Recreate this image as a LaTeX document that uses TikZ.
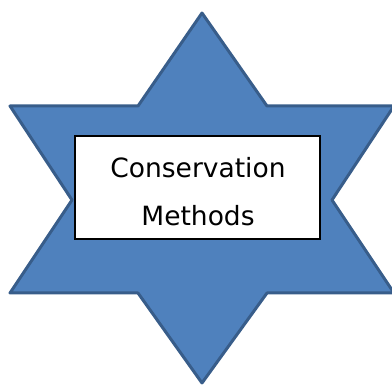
\documentclass[tikz,border=0pt]{standalone}
\usepackage{fontspec}
\setmainfont{DejaVu Sans}
\definecolor{starfill}{HTML}{4F81BD}
\definecolor{starline}{HTML}{385D8A}
\tikzset{
	star tri/.style={fill=starfill, draw=starline, line width=3pt, line join=round},
	label box/.style={draw=black, fill=white, line width=1.5pt, minimum width=245pt, minimum height=103pt, align=center, inner sep=0pt}
}

\begin{document}
\begin{tikzpicture}[x=1pt,y=-1pt]
	\useasboundingbox (0,0) rectangle (392,385);
	% points of the star
	\coordinate (top) at (202,13);
	\coordinate (bot) at (202,383);
	\coordinate (ul) at (10,106);
	\coordinate (ur) at (394,106);
	\coordinate (ll) at (10,293);
	\coordinate (lr) at (394,293);
	\coordinate (il) at (72,200);
	\coordinate (ir) at (332,200);
	\coordinate (itl) at (138,106);
	\coordinate (itr) at (267,106);
	\coordinate (ibl) at (138,293);
	\coordinate (ibr) at (267,293);
	\draw[star tri] (top) -- (itr) -- (ur) -- (ir) -- (lr) -- (ibr) -- (bot) -- (ibl) -- (ll) -- (il) -- (ul) -- (itl) -- cycle;
	\node[label box] (box) at (197.5,187.5) {};
	\node[font=\fontsize{26.5}{48}\selectfont, align=center] (txt) at (198,192) {Conservation\\Methods};
\end{tikzpicture}
\end{document}
